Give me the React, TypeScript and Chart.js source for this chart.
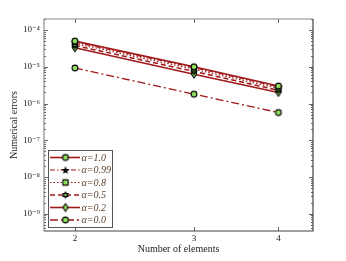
import React, { useEffect, useRef } from "react";
import { Chart, registerables } from "chart.js";

Chart.register(...registerables);

const xValues = [2, 3, 4];
const seriesLabels = ["α=1.0", "α=0.99", "α=0.8", "α=0.5", "α=0.2", "α=0.0"];
const errAlpha10 = [5.0e-5, 1.0e-5, 3.0e-6];
const errAlpha099 = [4.7e-5, 9.5e-6, 2.85e-6];
const errAlpha08 = [4.3e-5, 8.6e-6, 2.6e-6];
const errAlpha05 = [3.8e-5, 7.5e-6, 2.3e-6];
const errAlpha02 = [3.3e-5, 6.3e-6, 2.0e-6];
const errAlpha00 = [9.3e-6, 1.8e-6, 5.7e-7];
const yTickExponents = [-9, -8, -7, -6, -5, -4];
const xTickValues = [2, 3, 4];

const LINE = "#a01818";
const GREEN = "#8fe060";
const FONT = "'Liberation Serif', 'DejaVu Serif', serif";

type Marker = "circle" | "star" | "square" | "hexagram" | "diamond";

function makeMarker(kind: Marker): HTMLCanvasElement {
  const c = document.createElement("canvas");
  const s = 10;
  c.width = s;
  c.height = s;
  const ctx = c.getContext("2d")!;
  const cx = s / 2, cy = s / 2;
  ctx.lineWidth = 1.1;
  ctx.strokeStyle = "#000";
  ctx.fillStyle = GREEN;
  ctx.beginPath();
  if (kind === "circle") {
    ctx.arc(cx, cy, 2.9, 0, Math.PI * 2);
    ctx.fill();
    ctx.stroke();
  } else if (kind === "square") {
    ctx.rect(cx - 2.6, cy - 2.6, 5.2, 5.2);
    ctx.fill();
    ctx.stroke();
  } else if (kind === "diamond") {
    ctx.moveTo(cx, cy - 3.8);
    ctx.lineTo(cx + 2.6, cy);
    ctx.lineTo(cx, cy + 3.8);
    ctx.lineTo(cx - 2.6, cy);
    ctx.closePath();
    ctx.fill();
    ctx.stroke();
  } else if (kind === "star") {
    const R = 4.3, r = 1.8;
    for (let i = 0; i < 10; i++) {
      const rad = i % 2 === 0 ? R : r;
      const a = -Math.PI / 2 + (i * Math.PI) / 5;
      const px = cx + rad * Math.cos(a), py = cy + 0.4 + rad * Math.sin(a);
      if (i === 0) ctx.moveTo(px, py); else ctx.lineTo(px, py);
    }
    ctx.closePath();
    ctx.fillStyle = "#000";
    ctx.fill();
  } else if (kind === "hexagram") {
    const R = 4.0, r = 2.3;
    for (let i = 0; i < 12; i++) {
      const rad = i % 2 === 0 ? R : r;
      const a = -Math.PI / 2 + (i * Math.PI) / 6;
      const px = cx + rad * Math.cos(a), py = cy + rad * Math.sin(a);
      if (i === 0) ctx.moveTo(px, py); else ctx.lineTo(px, py);
    }
    ctx.closePath();
    ctx.fillStyle = "#000";
    ctx.fill();
    ctx.beginPath();
    ctx.arc(cx, cy, 1.2, 0, Math.PI * 2);
    ctx.fillStyle = GREEN;
    ctx.fill();
  }
  return c;
}

const supMap: Record<string, string> = {
  "-": "⁻", "0": "⁰", "1": "¹", "2": "²", "3": "³", "4": "⁴",
  "5": "⁵", "6": "⁶", "7": "⁷", "8": "⁸", "9": "⁹",
};
const sup = (n: number) => String(n).split("").map((ch) => supMap[ch] || ch).join("");

export default function App() {
  const ref = useRef<HTMLCanvasElement | null>(null);

  useEffect(() => {
    if (!ref.current) return;
    const markers: Marker[] = ["circle", "star", "square", "hexagram", "diamond", "circle"];
    const dashes: number[][] = [[], [5, 2, 1.5, 2], [1.5, 2], [5, 3], [], [8, 3, 2, 3]];
    const widths = [1.6, 1.2, 1.2, 1.5, 1.6, 1.3];
    const seriesData = [errAlpha10, errAlpha099, errAlpha08, errAlpha05, errAlpha02, errAlpha00];
    const imgs = markers.map(makeMarker);

    const datasets = seriesData.map((vals, i) => ({
      label: seriesLabels[i],
      data: xValues.map((x, j) => ({ x, y: vals[j] })),
      borderColor: LINE,
      backgroundColor: LINE,
      borderWidth: widths[i],
      borderDash: dashes[i],
      pointStyle: imgs[i] as any,
      pointRadius: 4,
      showLine: true,
      fill: false,
      tension: 0,
    }));

    const framePlugin = {
      id: "frame",
      afterDraw(chart: any) {
        const { ctx, chartArea: a, scales } = chart;
        const xs = scales.x, ys = scales.y;
        ctx.save();
        ctx.strokeStyle = "#666";
        ctx.lineWidth = 1;
        ctx.beginPath();
        for (let e = -10; e <= -3; e++) {
          for (let k = 1; k <= 9; k++) {
            const v = k * Math.pow(10, e);
            if (v < ys.min || v > ys.max) continue;
            const py = Math.round(ys.getPixelForValue(v)) + 0.5;
            const len = k === 1 ? 4 : 2;
            ctx.moveTo(a.left, py); ctx.lineTo(a.left + len, py);
            ctx.moveTo(a.right, py); ctx.lineTo(a.right - len, py);
          }
        }
        for (const v of xTickValues) {
          const px = Math.round(xs.getPixelForValue(v)) + 0.5;
          ctx.moveTo(px, a.top); ctx.lineTo(px, a.top + 4);
          ctx.moveTo(px, a.bottom); ctx.lineTo(px, a.bottom - 4);
        }
        ctx.stroke();
        ctx.lineWidth = 1.2;
        ctx.strokeStyle = "#8a8a8a";
        ctx.beginPath();
        ctx.moveTo(a.left, a.bottom); ctx.lineTo(a.left, a.top); ctx.lineTo(a.right, a.top);
        ctx.stroke();
        ctx.strokeStyle = "#444";
        ctx.beginPath();
        ctx.moveTo(a.right, a.top); ctx.lineTo(a.right, a.bottom); ctx.lineTo(a.left, a.bottom);
        ctx.stroke();

        ctx.fillStyle = "#222";
        ctx.font = `10px ${FONT}`;
        ctx.textAlign = "center";
        ctx.textBaseline = "middle";
        ctx.fillText("Number of elements", (a.left + a.right) / 2, 249);
        ctx.save();
        ctx.translate(14, (a.top + a.bottom) / 2);
        ctx.rotate(-Math.PI / 2);
        ctx.fillText("Numerical errors", 0, 0);
        ctx.restore();

        const bx = 48.5, by = 150.5, bw = 64, bh = 77;
        ctx.fillStyle = "#fff";
        ctx.fillRect(bx, by, bw, bh);
        ctx.strokeStyle = "#555";
        ctx.lineWidth = 1;
        ctx.strokeRect(bx, by, bw, bh);
        ctx.font = `italic 10px ${FONT}`;
        ctx.textAlign = "left";
        for (let i = 0; i < seriesLabels.length; i++) {
          const y = 157.5 + i * 12.5;
          ctx.strokeStyle = LINE;
          ctx.lineWidth = widths[i];
          ctx.setLineDash(dashes[i]);
          ctx.beginPath();
          ctx.moveTo(50, y); ctx.lineTo(80, y);
          ctx.stroke();
          ctx.setLineDash([]);
          ctx.drawImage(imgs[i], 65.5 - imgs[i].width / 2, y - imgs[i].height / 2);
          ctx.fillStyle = "#5b3f2c";
          ctx.fillText(seriesLabels[i], 81.5, y + 0.5);
        }
        ctx.restore();
      },
    };

    const chart = new Chart(ref.current, {
      type: "scatter",
      data: { datasets: datasets as any },
      options: {
        animation: false,
        responsive: false,
        maintainAspectRatio: false,
        layout: { padding: { top: 19, right: 33, left: 0, bottom: 0 } },
        plugins: { legend: { display: false }, tooltip: { enabled: false } },
        scales: {
          x: {
            type: "logarithmic",
            min: 1.8,
            max: 4.5,
            grid: { display: false, drawTicks: false },
            border: { display: false },
            ticks: {
              color: "#222",
              font: { family: FONT, size: 9 },
              padding: 2,
              maxRotation: 0,
              callback: (v: any) => String(v),
            },
            afterBuildTicks: (s: any) => {
              s.ticks = xTickValues.map((v) => ({ value: v }));
            },
            afterFit: (s: any) => {
              s.height = 30;
            },
          },
          y: {
            type: "logarithmic",
            min: 3.4e-10,
            max: 2.0e-4,
            grid: { display: false, drawTicks: false },
            border: { display: false },
            ticks: {
              color: "#222",
              font: { family: FONT, size: 9 },
              padding: 4,
              callback: (v: any) => "10" + sup(Math.round(Math.log10(Number(v)))),
            },
            afterBuildTicks: (s: any) => {
              s.ticks = yTickExponents.map((e) => ({ value: Math.pow(10, e) }));
            },
            afterFit: (s: any) => {
              s.width = 44;
            },
          },
        },
      },
      plugins: [framePlugin],
    });
    return () => chart.destroy();
  }, []);

  return (
    <div style={{ position: "absolute", left: 0, top: 0, width: 346, height: 261, background: "#fff" }}>
      <canvas ref={ref} width={346} height={261} style={{ display: "block", width: 346, height: 261 }} />
    </div>
  );
}
